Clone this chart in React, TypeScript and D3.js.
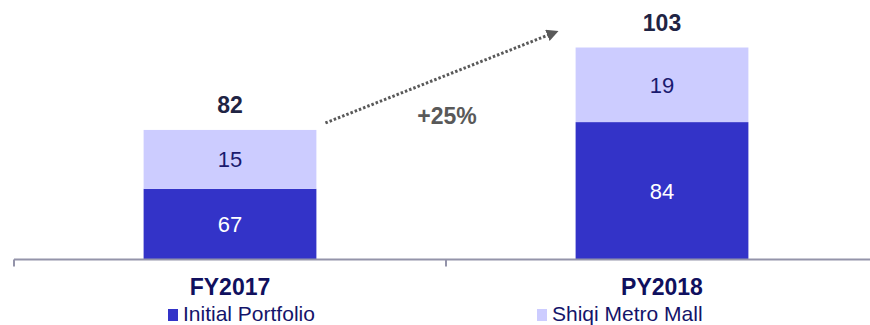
import React from "react";
import * as d3 from "d3";

const categories = ["FY2017", "PY2018"];
const initialPortfolio = [67, 84];
const shiqiMetroMall = [15, 19];
const totals = [82, 103];
const seriesNames = ["Initial Portfolio", "Shiqi Metro Mall"];
const growthLabel = "+25%";

const W = 870;
const H = 325;
const FONT = "'Liberation Sans', Arial, sans-serif";
const DARK = "#3333c8";
const LIGHT = "#ccccff";

export default function App() {
  const axisY = 259.5;
  const x = d3.scaleBand<string>().domain(categories).range([14, 878]).paddingInner(0.6).paddingOuter(0.3);
  const y = d3.scaleLinear().domain([49, 115.1]).range([axisY, 0]).clamp(true);

  const rows = categories.map((c, i) => ({ cat: c, a: initialPortfolio[i], b: shiqiMetroMall[i] }));
  const stack = d3.stack<any>().keys(["a", "b"]);
  const layers = stack(rows);
  const colors = [DARK, LIGHT];
  const labelColors = ["#ffffff", "#1a1a6e"];

  const bw = x.bandwidth();
  const x0 = x(categories[0])!;
  const x1 = x(categories[1])!;
  const arrowStart = [x0 + bw + 9, y(totals[0]) - 7];
  const arrowEnd = [x1 - 26, y(totals[1]) - 13];

  return (
    <svg width={W} height={H} style={{ position: "absolute", left: 0, top: 0, background: "#fff" }} fontFamily={FONT}>
      <defs>
        <marker id="ah" viewBox="0 0 10 10" refX="2" refY="5" markerWidth="4" markerHeight="4" orient="auto" markerUnits="strokeWidth">
          <path d="M0,0 L10,5 L0,10 z" fill="#595959" />
        </marker>
      </defs>
      {layers.map((layer, li) =>
        layer.map((d, i) => {
          const top = y(d[1]);
          const bot = y(d[0]);
          return (
            <g key={`${li}-${i}`}>
              <rect x={x(d.data.cat)} y={top} width={bw} height={bot - top} fill={colors[li]} />
              <text
                x={x(d.data.cat)! + bw / 2}
                y={(top + bot) / 2}
                dy="0.36em"
                textAnchor="middle"
                fontSize={22}
                fill={labelColors[li]}
              >
                {d[1] - d[0]}
              </text>
            </g>
          );
        })
      )}
      {totals.map((t, i) => (
        <text key={i} x={x(categories[i])! + bw / 2} y={y(t) - 17} textAnchor="middle" fontSize={23} fontWeight="bold" fill="#1f2444">
          {t}
        </text>
      ))}
      <line x1={14} x2={W} y1={axisY} y2={axisY} stroke="#9494aa" strokeWidth={2} />
      {[14, x1 - (x.step() - bw) / 2].map((tx, i) => (
        <line key={i} x1={tx} x2={tx} y1={axisY} y2={axisY + 7} stroke="#9494aa" strokeWidth={2} />
      ))}
      {categories.map((c) => (
        <text key={c} x={x(c)! + bw / 2} y={295} textAnchor="middle" fontSize={23} fontWeight="bold" fill="#10105e">
          {c}
        </text>
      ))}
      <line
        x1={arrowStart[0]}
        y1={arrowStart[1]}
        x2={arrowEnd[0]}
        y2={arrowEnd[1]}
        stroke="#595959"
        strokeWidth={3}
        strokeDasharray="2.5 2"
        markerEnd="url(#ah)"
      />
      <text x={447} y={124} textAnchor="middle" fontSize={23} fontWeight="bold" fill="#595959">
        {growthLabel}
      </text>
      {seriesNames.map((s, i) => {
        const lx = [168, 537][i];
        return (
          <g key={s}>
            <rect x={lx} y={309} width={10} height={12} fill={colors[i]} />
            <text x={lx + 15} y={321} fontSize={21} fill="#14146a">
              {s}
            </text>
          </g>
        );
      })}
    </svg>
  );
}
